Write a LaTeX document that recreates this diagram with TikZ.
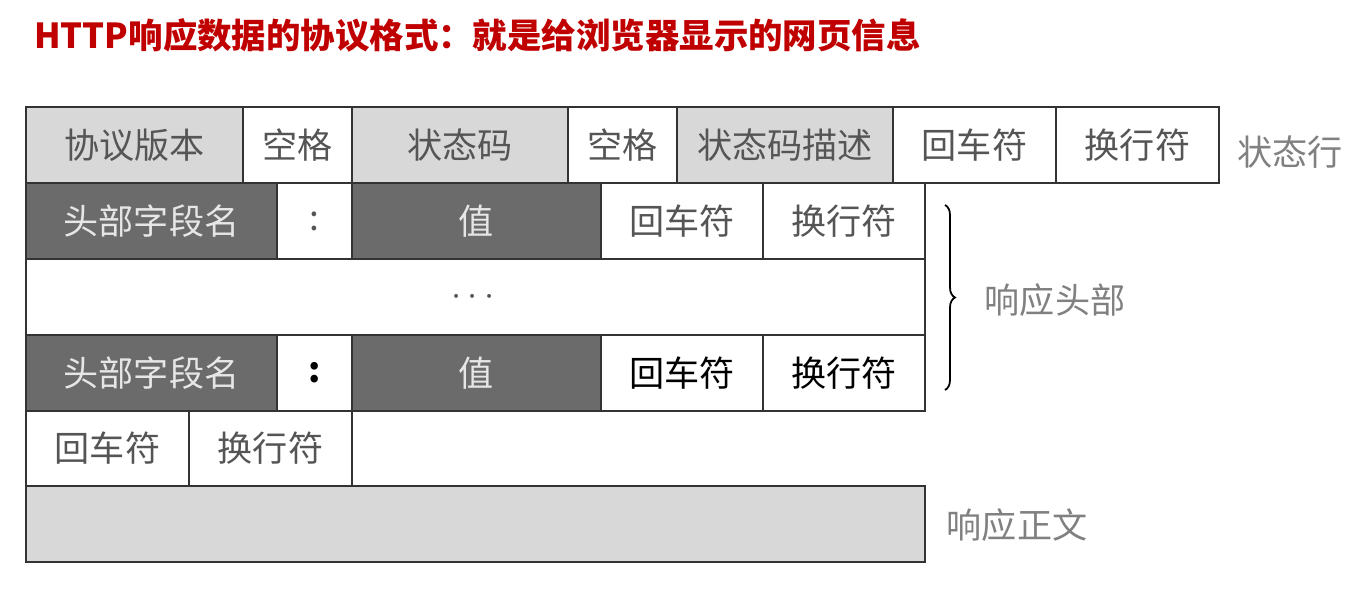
\documentclass[tikz,border=0pt]{standalone}
\usepackage{fontspec}
\newfontfamily\cjk{Noto Sans CJK SC}
\usetikzlibrary{decorations.pathreplacing}
\definecolor{titlered}{HTML}{C00000}
\definecolor{lightcell}{HTML}{D8D8D8}
\definecolor{darkcell}{HTML}{6B6B6B}
\definecolor{gridline}{HTML}{333333}
\definecolor{textgray}{HTML}{555555}
\definecolor{textlight}{HTML}{E6E6E6}

\begin{document}
\begin{tikzpicture}[x=0.02cm, y=-0.02cm,
    every node/.style={font=\cjk\fontsize{20}{24}\selectfont, text=textgray},
    grid/.style={draw=gridline, line width=1.4pt}]
  \useasboundingbox (0,0) rectangle (1361,614);

  %% Title
  \node[anchor=west, text=titlered, font=\cjk\bfseries\fontsize{19.6}{24}\selectfont] (title) at (28,35)
    {HTTP响应数据的协议格式：就是给浏览器显示的网页信息};

  %% Status line
  \filldraw[grid, fill=lightcell] (26,107) rectangle (243,183);   \node (ver) at (134.5,145) {协议版本};
  \filldraw[grid, fill=white] (243,107) rectangle (352,183);      \node (spa) at (297.5,145) {空格};
  \filldraw[grid, fill=lightcell] (352,107) rectangle (568,183);  \node (code) at (460,145) {状态码};
  \filldraw[grid, fill=white] (568,107) rectangle (677,183);      \node (spb) at (622.5,145) {空格};
  \filldraw[grid, fill=lightcell] (677,107) rectangle (893,183);  \node (desc) at (785,145) {状态码描述};
  \filldraw[grid, fill=white] (893,107) rectangle (1056,183);     \node (cra) at (974.5,145) {回车符};
  \filldraw[grid, fill=white] (1056,107) rectangle (1219,183);    \node (lfa) at (1137.5,145) {换行符};
  \node[text=gray] (statusline) at (1290,152) {状态行};

  %% Header fields
  \filldraw[grid, fill=darkcell] (26,183) rectangle (277,259);    \node[text=textlight] (namea) at (151.5,221) {头部字段名};
  \filldraw[grid, fill=white] (277,183) rectangle (352,259);      \node (colona) at (314.5,221) {:};
  \filldraw[grid, fill=darkcell] (352,183) rectangle (601,259);   \node[text=textlight] (vala) at (476.5,221) {值};
  \filldraw[grid, fill=white] (601,183) rectangle (763,259);      \node (crb) at (682,221) {回车符};
  \filldraw[grid, fill=white] (763,183) rectangle (925,259);      \node (lfb) at (844,221) {换行符};

  \filldraw[grid, fill=white] (26,259) rectangle (925,335);       \node (more) at (473,297) {$\cdots$};

  \filldraw[grid, fill=darkcell] (26,335) rectangle (277,411);    \node[text=textlight] (nameb) at (151.5,373) {头部字段名};
  \filldraw[grid, fill=white] (277,335) rectangle (352,411);      \node[text=black] (colonb) at (314.5,373) {\bfseries :};
  \filldraw[grid, fill=darkcell] (352,335) rectangle (601,411);   \node[text=textlight] (valb) at (476.5,373) {值};
  \filldraw[grid, fill=white] (601,335) rectangle (763,411);      \node[text=black] (crc) at (682,373) {回车符};
  \filldraw[grid, fill=white] (763,335) rectangle (925,411);      \node[text=black] (lfc) at (844,373) {换行符};

  \draw[decorate, decoration={brace, amplitude=0.2cm}, line width=1pt] (945,205) -- (945,390);
  \node[text=gray] (header) at (1055,300) {响应头部};

  %% Blank line
  \filldraw[grid, fill=white] (26,411) rectangle (189,486);       \node (crd) at (107.5,448.5) {回车符};
  \filldraw[grid, fill=white] (189,411) rectangle (352,486);      \node (lfd) at (270.5,448.5) {换行符};

  %% Body
  \filldraw[grid, fill=lightcell] (26,486) rectangle (925,562);
  \node[text=gray] (body) at (1017,525) {响应正文};
\end{tikzpicture}
\end{document}
